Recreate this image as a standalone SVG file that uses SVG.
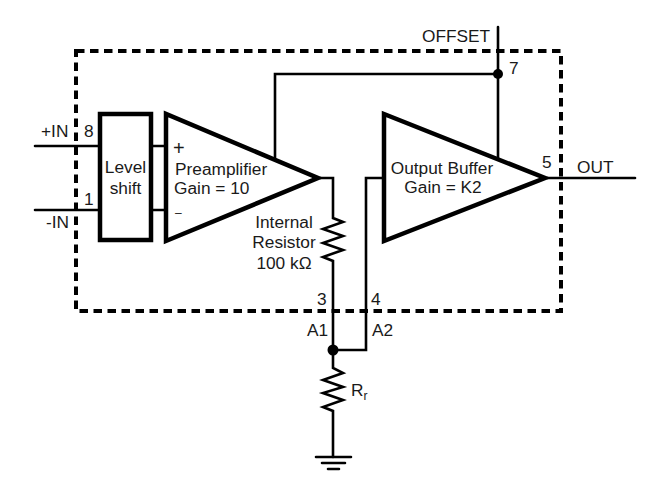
<svg xmlns="http://www.w3.org/2000/svg" width="662" height="488" viewBox="0 0 662 488">
<style>
text{font-family:"Liberation Sans",Arial,sans-serif;font-size:17.300px;fill:#1a1a1a}
.m{text-anchor:middle}
.w{fill:none;stroke:#000;stroke-width:2.6;stroke-linejoin:miter;stroke-linecap:round}
.b{fill:#fff;stroke:#000;stroke-width:4.500;stroke-linejoin:miter}
.d{fill:#000}
</style>
<rect width="662" height="488" fill="#fff"/>
<g id="boundary"><rect x="76" y="51" width="485" height="260" fill="none" stroke="#000" stroke-width="4" stroke-dasharray="8.500 5.500"/></g>
<g id="connectors">
<path class="w" d="M35 146H100M35 210H100M152 146H166M152 210H166"/>
<path class="w" d="M275 158V74H498M498 27V159"/>
<path class="w" d="M320 178H333V218L343 222L323 229L343 236L323 243L343 250L323 257L333 261V368L343 373L323 380L343 387L323 393L343 400L323 407L333 411V457"/>
<path class="w" d="M383 178H366V350H333"/>
<path class="w" d="M547 178H635"/>
<path class="w" d="M316 457H351M322 463H345M328 469H339"/>
<circle class="d" cx="498" cy="74" r="5"/>
<circle class="d" cx="333" cy="350" r="5.500"/>
</g>
<g id="level-shift"><rect class="b" x="100" y="114" width="51" height="126"/><text class="m" x="125.500" y="173">Level</text><text class="m" x="125.500" y="194">shift</text></g>
<g id="preamplifier"><path class="b" d="M166 114V241L318 178Z"/><text x="173" y="155" style="font-size:20px">+</text><text x="175" y="175">Preamplifier</text><text x="174" y="194">Gain = 10</text><text x="175" y="217" style="font-size:12px">–</text></g>
<g id="output-buffer"><path class="b" d="M384 114V241L545 178Z"/><text class="m" x="442" y="174">Output Buffer</text><text class="m" x="443" y="193">Gain = K2</text></g>
<g id="labels">
<text x="41" y="137">+IN</text><text x="46" y="228">-IN</text><text x="84" y="137">8</text><text x="84" y="205">1</text>
<text class="m" x="284" y="228">Internal</text><text class="m" x="284" y="248">Resistor</text><text class="m" x="284" y="269">100 kΩ</text>
<text x="317" y="305">3</text><text x="371" y="305">4</text><text x="307" y="336">A1</text><text x="372" y="336">A2</text>
<text x="422" y="42">OFFSET</text><text x="509" y="74">7</text><text x="542" y="168">5</text><text x="577" y="173">OUT</text>
<text x="351" y="396">R<tspan dy="4" style="font-size:12px">r</tspan></text>
</g>
</svg>
